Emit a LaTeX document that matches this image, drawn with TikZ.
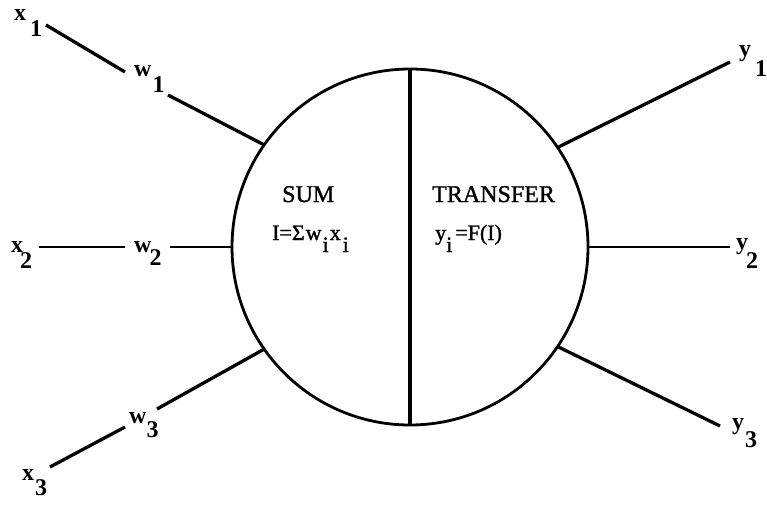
\documentclass[tikz,border=0pt]{standalone}
\usepackage{fontspec}
\setmainfont{Liberation Serif}
\newfontfamily\heavyserif[FakeBold=1.2]{Liberation Serif}
\begin{document}
\begin{tikzpicture}[x=1pt,y=-1pt,
  spoke/.style={line width=3.3pt},
  hspoke/.style={line width=2.5pt},
  lab/.style={anchor=base west, inner sep=0pt, font=\bfseries\fontsize{24}{28}\selectfont},
  big/.style={anchor=base west, inner sep=0pt, font=\heavyserif\fontsize{24}{28}\selectfont},
  mid/.style={anchor=base west, inner sep=0pt, font=\heavyserif\fontsize{22}{26}\selectfont}]
\useasboundingbox (0,0) rectangle (767,508);
% neuron body
\node[draw, circle, line width=2.8pt, minimum size=356pt, inner sep=0pt, outer sep=0pt] (c) at (410,247) {};
\draw[spoke] (c.north) -- (c.south);
% free ends of connectors
\coordinate (a1) at (46,25);  \coordinate (b1) at (125,72);  \coordinate (d1) at (168,95);
\coordinate (a2) at (39,247); \coordinate (b2) at (125,247); \coordinate (d2) at (170,247);
\coordinate (a3) at (50,467); \coordinate (b3) at (125,427); \coordinate (d3) at (157,409);
\coordinate (e1) at (730,62); \coordinate (e2) at (730,247); \coordinate (e3) at (720,426);
% inputs
\draw[spoke] (a1) -- (b1);
\draw[spoke] (d1) -- (c.145.4);
\draw[hspoke] (a2) -- (b2);
\draw[hspoke] (d2) -- (c.180);
\draw[spoke] (a3) -- (b3);
\draw[spoke] (d3) -- (c.215.3);
% outputs
\draw[spoke] (c.34) -- (e1);
\draw[hspoke] (c.0) -- (e2);
\draw[spoke] (c.-34) -- (e3);
% labels
\node[lab] (lx1) at (14,21)  {x\kern4pt\raisebox{-16pt}{1}};
\node[lab] (lw1) at (134,77) {w\kern1pt\raisebox{-16pt}{1}};
\node[lab] (lx2) at (11,252) {x\kern-3pt\raisebox{-16pt}{2}};
\node[lab] (lw2) at (134,252) {w\kern-2pt\raisebox{-13pt}{2}};
\node[lab] (lx3) at (22,480) {x\kern1pt\raisebox{-15pt}{3}};
\node[lab] (lw3) at (129,423) {w\kern0pt\raisebox{-14pt}{3}};
\node[lab] (ly1) at (739,57) {y\kern4pt\raisebox{-20pt}{1}};
\node[lab] (ly2) at (736,249) {y\kern-2pt\raisebox{-19pt}{2}};
\node[lab] (ly3) at (732,429) {y\kern1pt\raisebox{-18pt}{3}};
% body texts
\node[big] (sum) at (282,202) {SUM};
\node[big] (tr) at (432,202) {TRANSFER};
\node[mid] (f1) at (272,240) {I=Σ\kern1pt w\kern1pt\raisebox{-12pt}{i}\kern1pt x\kern2pt\raisebox{-12pt}{i}};
\node[mid] (f2) at (435,240) {y\kern0pt\raisebox{-12pt}{i}\kern3pt=F(I)};
\end{tikzpicture}
\end{document}
